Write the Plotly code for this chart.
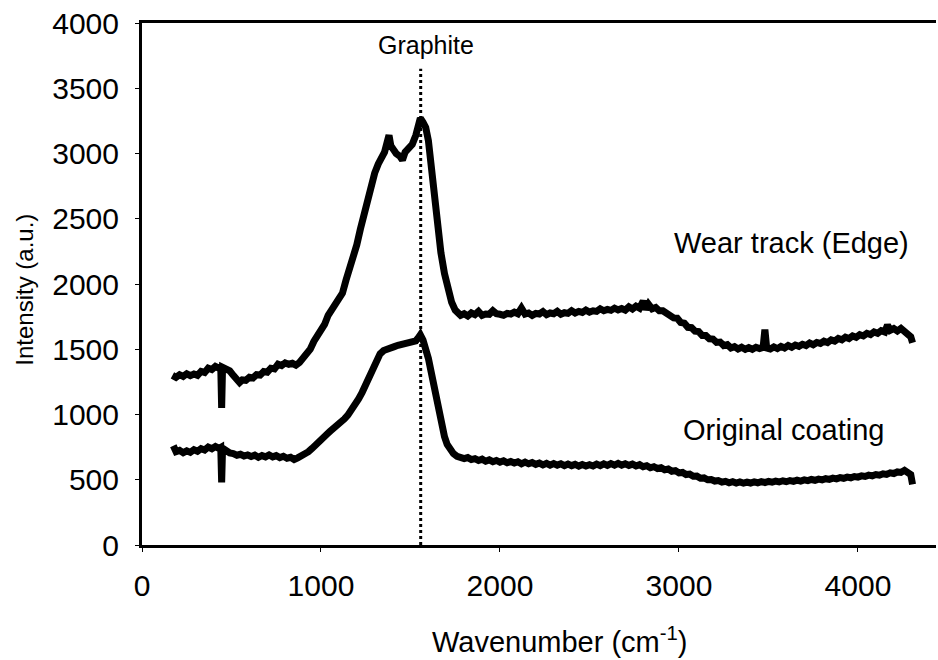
import plotly.graph_objects as go

# Wear track (Edge) spectrum: (wavenumber, intensity) pairs
wear_points = [
    (170, 1300), (190, 1285), (210, 1305), (230, 1292), (250, 1312), (270, 1298), (290, 1310), (310, 1300),
    (330, 1330), (350, 1322), (370, 1355), (390, 1345), (410, 1368), (430, 1355), (440, 1365), (445, 1050),
    (450, 1362), (470, 1352), (490, 1335), (510, 1300), (530, 1268), (545, 1245), (560, 1265), (580, 1262),
    (600, 1285), (620, 1280), (640, 1305), (660, 1302), (680, 1330), (700, 1325), (720, 1355), (740, 1350),
    (760, 1385), (780, 1375), (800, 1395), (820, 1385), (840, 1392), (860, 1378), (880, 1398), (900, 1430),
    (920, 1470), (940, 1500), (960, 1560), (980, 1600), (1000, 1650), (1020, 1690), (1040, 1760),
    (1060, 1800), (1080, 1840), (1100, 1880), (1120, 1930), (1140, 2030), (1160, 2110), (1180, 2200),
    (1200, 2300), (1220, 2420), (1240, 2530), (1260, 2640), (1280, 2760), (1300, 2850), (1320, 2920),
    (1340, 2980), (1355, 3010), (1370, 3090), (1380, 3140), (1390, 3060), (1405, 3020), (1420, 3000),
    (1440, 2980), (1455, 2950), (1470, 3010), (1490, 3040), (1510, 3070), (1530, 3140), (1545, 3230),
    (1555, 3270), (1570, 3240), (1585, 3200), (1600, 3100), (1612, 2950), (1625, 2780), (1640, 2560),
    (1655, 2380), (1670, 2240), (1690, 2080), (1710, 1950), (1730, 1860), (1750, 1800), (1765, 1770),
    (1780, 1760), (1800, 1772), (1820, 1755), (1840, 1778), (1860, 1765), (1880, 1790), (1900, 1760),
    (1920, 1770), (1940, 1768), (1960, 1795), (1980, 1772), (2000, 1768), (2020, 1760), (2040, 1775),
    (2060, 1770), (2080, 1785), (2100, 1772), (2120, 1815), (2140, 1770), (2160, 1778), (2180, 1760),
    (2200, 1775), (2220, 1770), (2240, 1788), (2260, 1765), (2280, 1778), (2300, 1772), (2320, 1790),
    (2340, 1768), (2360, 1780), (2380, 1775), (2400, 1795), (2420, 1778), (2440, 1790), (2460, 1782),
    (2480, 1800), (2500, 1785), (2520, 1795), (2540, 1790), (2560, 1810), (2580, 1795), (2600, 1805),
    (2620, 1798), (2640, 1815), (2660, 1802), (2680, 1812), (2700, 1800), (2720, 1825), (2740, 1808),
    (2760, 1830), (2780, 1815), (2800, 1870), (2815, 1805), (2830, 1845), (2850, 1810), (2870, 1820),
    (2890, 1795), (2910, 1795), (2930, 1775), (2950, 1770), (2970, 1740), (2990, 1738), (3010, 1705),
    (3030, 1700), (3050, 1668), (3070, 1665), (3090, 1638), (3110, 1635), (3130, 1605), (3150, 1605),
    (3170, 1580), (3190, 1578), (3210, 1552), (3230, 1555), (3250, 1528), (3270, 1535), (3290, 1510),
    (3310, 1520), (3330, 1502), (3350, 1515), (3370, 1500), (3390, 1512), (3410, 1500), (3430, 1515),
    (3450, 1505), (3470, 1515), (3480, 1650), (3490, 1510), (3510, 1502), (3530, 1518), (3550, 1505),
    (3570, 1522), (3590, 1510), (3610, 1528), (3630, 1515), (3650, 1532), (3670, 1522), (3690, 1538),
    (3710, 1528), (3730, 1548), (3750, 1535), (3770, 1552), (3790, 1545), (3810, 1562), (3830, 1552),
    (3850, 1572), (3870, 1562), (3890, 1582), (3910, 1572), (3930, 1592), (3950, 1582), (3970, 1602),
    (3990, 1592), (4010, 1612), (4030, 1602), (4050, 1622), (4070, 1612), (4090, 1632), (4110, 1622),
    (4130, 1642), (4150, 1632), (4165, 1685), (4180, 1645), (4200, 1658), (4220, 1640), (4240, 1660),
    (4260, 1635), (4280, 1622), (4295, 1595), (4305, 1550),
]

# Original coating spectrum: (wavenumber, intensity) pairs
orig_points = [
    (175, 760), (190, 715), (210, 725), (230, 708), (250, 722), (270, 710), (290, 730), (310, 718),
    (330, 738), (350, 728), (370, 750), (390, 738), (410, 755), (430, 740), (440, 748), (445, 480),
    (450, 742), (470, 722), (490, 705), (510, 700), (530, 688), (550, 695), (570, 682), (590, 690),
    (610, 678), (630, 688), (650, 672), (670, 685), (690, 675), (710, 690), (730, 675), (750, 685),
    (770, 670), (790, 680), (810, 665), (830, 672), (850, 655), (870, 668), (890, 680), (910, 700),
    (930, 715), (950, 740), (970, 770), (990, 800), (1010, 820), (1030, 845), (1050, 870), (1070, 890),
    (1090, 915), (1110, 940), (1130, 965), (1150, 995), (1170, 1030), (1190, 1075), (1210, 1120),
    (1230, 1170), (1250, 1230), (1270, 1300), (1290, 1370), (1310, 1420), (1330, 1465), (1350, 1490),
    (1370, 1505), (1390, 1515), (1410, 1520), (1430, 1530), (1450, 1535), (1470, 1540), (1490, 1545),
    (1510, 1550), (1530, 1565), (1545, 1590), (1555, 1610), (1570, 1570), (1585, 1510), (1600, 1430),
    (1615, 1330), (1630, 1220), (1645, 1110), (1660, 1010), (1675, 910), (1690, 830), (1705, 770),
    (1720, 730), (1740, 700), (1760, 680), (1780, 672), (1800, 662), (1820, 670), (1840, 655), (1860, 662),
    (1880, 648), (1900, 658), (1920, 642), (1940, 652), (1960, 638), (1980, 648), (2000, 635), (2020, 645),
    (2040, 630), (2060, 640), (2080, 628), (2100, 638), (2120, 622), (2140, 635), (2160, 622), (2180, 632),
    (2200, 618), (2220, 628), (2240, 614), (2260, 626), (2280, 612), (2300, 624), (2320, 612), (2340, 622),
    (2360, 608), (2380, 620), (2400, 608), (2420, 618), (2440, 605), (2460, 617), (2480, 606), (2500, 616),
    (2520, 606), (2540, 620), (2560, 608), (2580, 622), (2600, 610), (2620, 624), (2640, 612), (2660, 625),
    (2680, 612), (2700, 622), (2720, 610), (2740, 620), (2760, 606), (2780, 616), (2800, 600), (2820, 608),
    (2840, 592), (2860, 600), (2880, 586), (2900, 592), (2920, 576), (2940, 582), (2960, 565), (2980, 570),
    (3000, 552), (3020, 556), (3040, 540), (3060, 543), (3080, 527), (3100, 528), (3120, 512), (3140, 514),
    (3160, 500), (3180, 502), (3200, 490), (3220, 494), (3240, 482), (3260, 488), (3280, 477), (3300, 485),
    (3320, 475), (3340, 483), (3360, 474), (3380, 482), (3400, 475), (3420, 484), (3440, 477), (3460, 486),
    (3480, 479), (3500, 488), (3520, 481), (3540, 490), (3560, 483), (3580, 492), (3600, 485), (3620, 494),
    (3640, 488), (3660, 497), (3680, 490), (3700, 499), (3720, 493), (3740, 502), (3760, 496), (3780, 505),
    (3800, 499), (3820, 508), (3840, 503), (3860, 512), (3880, 507), (3900, 516), (3920, 511), (3940, 520),
    (3960, 515), (3980, 525), (4000, 520), (4020, 530), (4040, 525), (4060, 535), (4080, 530), (4100, 540),
    (4120, 535), (4140, 546), (4160, 541), (4180, 553), (4200, 548), (4220, 560), (4240, 556), (4260, 572),
    (4280, 560), (4295, 540), (4305, 465),
]

graphite_x = [1557, 1557]
graphite_y = [0, 3650]

x_ticks = [0, 1000, 2000, 3000, 4000]
y_ticks = [0, 500, 1000, 1500, 2000, 2500, 3000, 3500, 4000]

wear_x = [p[0] for p in wear_points]
wear_y = [p[1] for p in wear_points]
orig_x = [p[0] for p in orig_points]
orig_y = [p[1] for p in orig_points]

FONT = "Arial, Liberation Sans, sans-serif"

fig = go.Figure()
fig.add_trace(go.Scatter(x=graphite_x, y=graphite_y, mode="lines",
                         line=dict(color="black", width=3, dash="dot"), showlegend=False))
fig.add_trace(go.Scatter(x=wear_x, y=wear_y, mode="lines", name="Wear track (Edge)",
                         line=dict(color="black", width=7), showlegend=False))
fig.add_trace(go.Scatter(x=orig_x, y=orig_y, mode="lines", name="Original coating",
                         line=dict(color="black", width=7), showlegend=False))

fig.update_layout(
    width=938, height=660,
    margin=dict(l=142, r=2, t=23, b=115),
    paper_bgcolor="white", plot_bgcolor="white",
    font=dict(family=FONT, color="black", size=30),
    xaxis=dict(range=[0, 4436], tickvals=x_ticks, ticktext=[str(v) for v in x_ticks],
               showgrid=False, zeroline=False, showline=True, linecolor="black", linewidth=3,
               mirror=True, ticks="outside", ticklen=4, tickcolor="black",
               tickfont=dict(size=30), ticklabelstandoff=8),
    yaxis=dict(range=[0, 4000], tickvals=y_ticks, ticktext=[str(v) for v in y_ticks],
               showgrid=False, zeroline=False, showline=True, linecolor="black", linewidth=3,
               mirror=False, ticks="outside", ticklen=4, tickcolor="black",
               tickfont=dict(size=30), ticklabelstandoff=10),
    annotations=[
        dict(x=1587, y=3828, xref="x", yref="y", text="Graphite", showarrow=False,
             font=dict(size=25)),
        dict(x=3630, y=2312, xref="x", yref="y", text="Wear track (Edge)", showarrow=False,
             font=dict(size=29)),
        dict(x=3584, y=880, xref="x", yref="y", text="Original coating", showarrow=False,
             font=dict(size=29)),
        dict(x=-0.148, y=0.49, xref="paper", yref="paper", text="Intensity (a.u.)",
             xanchor="center", yanchor="middle",
             showarrow=False, textangle=-90, font=dict(size=24)),
        dict(x=0.526, y=-0.182, xref="paper", yref="paper", text="Wavenumber (cm<sup>-1</sup>)",
             xanchor="center", yanchor="middle",
             showarrow=False, font=dict(size=29)),
    ],
)

fig.write_html("out.html")
